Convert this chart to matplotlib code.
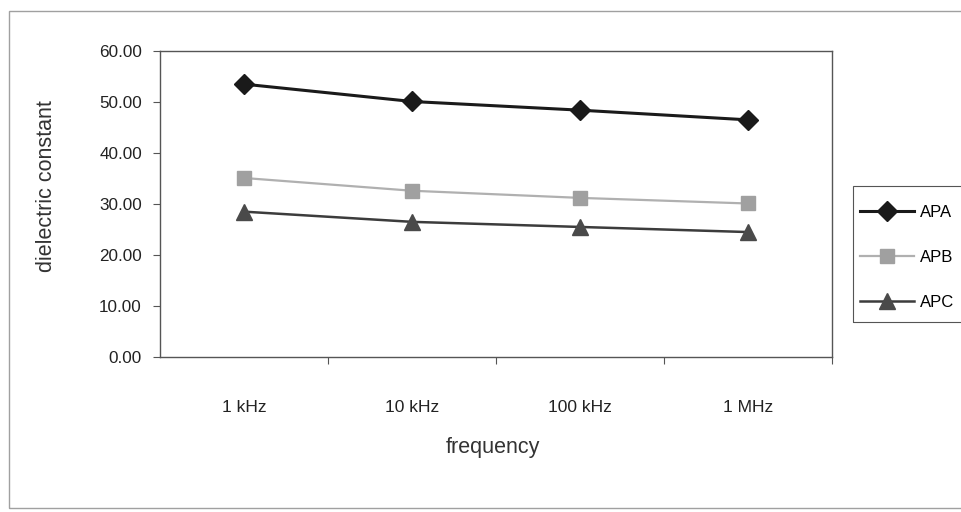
import matplotlib
matplotlib.use("Agg")
import matplotlib.pyplot as plt
from matplotlib.patches import Rectangle

plt.rcParams['font.family'] = ['Liberation Sans', 'DejaVu Sans']

# ข้อมูล
freq_labels = ['1 kHz', '10 kHz', '100 kHz', '1 MHz']
apa = [53.5, 50.1, 48.4, 46.5]
apb = [35.1, 32.6, 31.2, 30.1]
apc = [28.5, 26.5, 25.5, 24.5]
y_ticks = [0, 10, 20, 30, 40, 50, 60]

W, H = 962, 512
fig = plt.figure(figsize=(W / 100, H / 100), dpi=100)
# ขอบนอกของแผนภูมิ
fig.patches.append(Rectangle((9 / W, 1 - 508 / H), 1.0, (508 - 11) / H, transform=fig.transFigure,
                             fill=False, edgecolor='#a0a0a0', linewidth=1.0))

ax = fig.add_axes([160 / W, 1 - 357 / H, 672 / W, 306 / H])
x = range(len(freq_labels))
ax.plot(x, apa, color='#1a1a1a', linewidth=2.2, marker='D', markersize=10,
        markerfacecolor='#1a1a1a', markeredgecolor='#1a1a1a', label='APA')
ax.plot(x, apb, color='#b0b0b0', linewidth=1.6, marker='s', markersize=10,
        markerfacecolor='#a0a0a0', markeredgecolor='#a0a0a0', label='APB')
ax.plot(x, apc, color='#3c3c3c', linewidth=1.8, marker='^', markersize=11,
        markerfacecolor='#4a4a4a', markeredgecolor='#4a4a4a', label='APC')

ax.set_xlim(-0.5, 3.5)
ax.set_ylim(0, 60)
ax.set_yticks(y_ticks)
ax.set_yticklabels(['%.2f' % v for v in y_ticks], fontsize=12.3, color='#222222')
ax.set_xticks([0.5, 1.5, 2.5, 3.5], minor=False)
ax.set_xticklabels([])
ax.set_xticks(list(x), minor=True)
ax.set_xticklabels(freq_labels, minor=True, fontsize=12.5, color='#222222')
ax.tick_params(axis='x', which='minor', length=0, pad=31)
ax.tick_params(axis='x', which='major', length=5, direction='out', color='#555555')
ax.tick_params(axis='y', length=5, direction='out', color='#555555', pad=8)
for s in ax.spines.values():
    s.set_color('#555555')
    s.set_linewidth(1.0)

fig.text(47 / W, 1 - 186 / H, 'dielectric constant', rotation=90, fontsize=15.5,
         color='#333333', ha='center', va='center')
fig.text(493 / W, 1 - 447 / H, 'frequency', fontsize=15.5, color='#333333',
         ha='center', va='center')

# กรอบคำอธิบาย
fig.patches.append(Rectangle((853 / W, 1 - 322 / H), 1.0, (322 - 186) / H, transform=fig.transFigure,
                             fill=False, edgecolor='#555555', linewidth=0.8))
leg = ax.legend(loc='upper left', bbox_to_anchor=(860 / W, 1 - 205 / H),
                bbox_transform=fig.transFigure, frameon=False,
                fontsize=12, handlelength=3.25, labelspacing=1.8,
                borderpad=0, handletextpad=0.35, borderaxespad=0)

fig.savefig('out.png', dpi=100)
